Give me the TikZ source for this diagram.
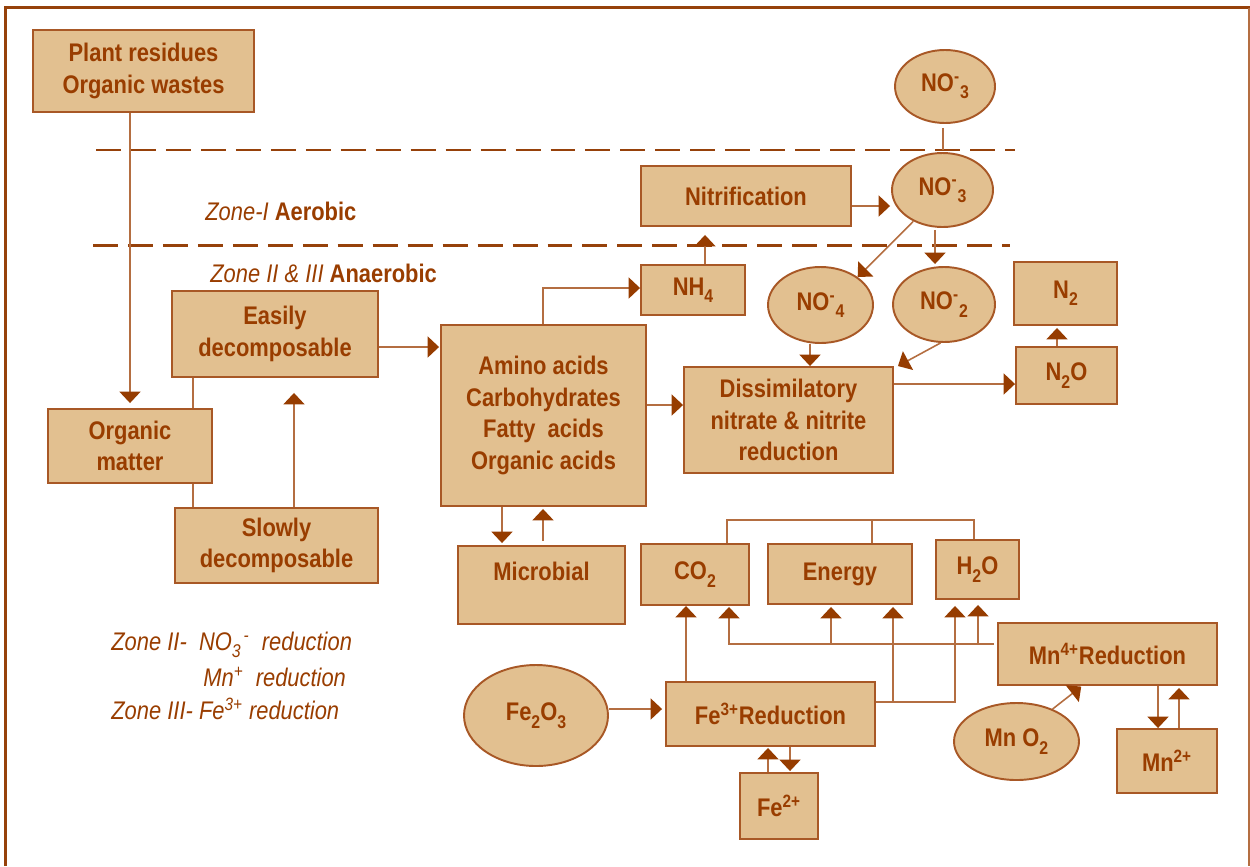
\documentclass[tikz,border=0pt]{standalone}
\usepackage{fontspec}
\setmainfont{Liberation Sans}[FakeStretch=0.86]
\usetikzlibrary{arrows.meta,shapes.geometric}
\definecolor{tanfill}{RGB}{226,192,144}
\definecolor{txtc}{RGB}{153,61,0}
\definecolor{brdr}{RGB}{168,88,38}
\definecolor{lnc}{RGB}{180,110,65}
\definecolor{headc}{RGB}{150,60,0}
\definecolor{dashc}{RGB}{150,65,10}
\newlength\pxu \setlength\pxu{0.02cm}
\newcommand\sbs[1]{\raisebox{-0.55ex}{\fontsize{10.5}{10.5}\selectfont #1}}
\begin{document}
\begin{tikzpicture}[x=0.02cm,y=-0.02cm,
  every node/.style={text=txtc, font=\fontsize{14.5}{18}\selectfont\bfseries},
  box/.style={draw=brdr, fill=tanfill, line width=1.1pt, inner sep=0pt, align=center},
  ell/.style={ellipse, draw=brdr, fill=tanfill, line width=1.1pt, inner sep=0pt, align=center},
  ln/.style={draw=lnc, line width=0.9pt},
  arr/.style={ln, -{Triangle[width=12pt,length=6.5pt,color=headc]}},
  zoneline/.style={dash pattern=on 14.2pt off 5.7pt, draw=dashc, line width=1.7pt},
  lbl/.style={font=\fontsize{14.5}{18}\selectfont\mdseries, anchor=west, inner sep=0pt}
]
\useasboundingbox (0,0) rectangle (1250,866);
% frame
\draw[draw=dashc, line width=1.7pt] (5.5,866) -- (5.5,7.5) -- (1250,7.5);
\draw[draw=lnc, line width=0.7pt] (1249,7.5) -- (1249,866);

% helper coordinates
\foreach \v in {193,294,705,935,810,1057,502,543,727,872,974,686,729,831,978,893,955,1082,1158,1179,768,790,943}
  \coordinate (x\v) at (\v,0);
\foreach \v in {347,405,384,206,520,644,702,709,150,245,288}
  \coordinate (y\v) at (0,\v);
\coordinate (mnl) at (994,644);

% zone dashed lines
\coordinate (za1) at (96,150);
\coordinate (za2) at (1015,150);
\coordinate (zb1) at (93,245);
\coordinate (zb2) at (1010,245);
\draw[zoneline] (za1) -- (za2);
\draw[zoneline] (zb1) -- (zb2);

% labels
\node[lbl] (z1) at (205,211) {\textit{Zone-I} \textbf{Aerobic}};
\node[lbl] (z2) at (210,273) {\textit{Zone II \& III} \textbf{Anaerobic}};
\node[lbl] (l1) at (111,645) {\textit{Zone II-\ \ NO\sbs{3}\textsuperscript{\,-}\ \ reduction}};
\node[lbl] (l2) at (203,677) {\textit{Mn\textsuperscript{+}\ \ reduction}};
\node[lbl] (l3) at (111,709) {\textit{Zone III- Fe\textsuperscript{3+} reduction}};

% boxes
\node[box, minimum width=221\pxu, minimum height=82\pxu] (plant) at (143.5,71) {Plant residues\\Organic wastes};
\node[box, minimum width=206\pxu, minimum height=86\pxu] (easy) at (275,334) {Easily\\decomposable};
\node[box, minimum width=164\pxu, minimum height=74\pxu] (organic) at (130,446) {Organic\\matter};
\node[box, minimum width=203\pxu, minimum height=75\pxu] (slow) at (276.5,545.5) {Slowly\\decomposable};
\node[box, minimum width=205\pxu, minimum height=181\pxu] (amino) at (543.5,415.5) {Amino acids\\Carbohydrates\\Fatty\ \ acids\\Organic acids};
\node[box, minimum width=104\pxu, minimum height=50\pxu] (nh4) at (693,290) {NH\sbs{4}};
\node[box, minimum width=210\pxu, minimum height=60\pxu] (nitri) at (746,196) {Nitrification};
\node[box, minimum width=209\pxu, minimum height=106\pxu] (diss) at (788.5,420) {Dissimilatory\\nitrate \& nitrite\\reduction};
\node[box, minimum width=101\pxu, minimum height=57\pxu] (n2o) at (1066.5,375.5) {N\sbs{2}O};
\node[box, minimum width=103\pxu, minimum height=63\pxu] (n2) at (1065.5,293.5) {N\sbs{2}};
\node[box, minimum width=167\pxu, minimum height=78\pxu] (micro) at (541.5,585) {Microbial\\[-2pt]\mbox{}};
\node[box, minimum width=108\pxu, minimum height=61\pxu] (co2) at (695,574.5) {CO\sbs{2}};
\node[box, minimum width=144\pxu, minimum height=60\pxu] (energy) at (840,574) {Energy};
\node[box, minimum width=83\pxu, minimum height=59\pxu] (h2o) at (977.5,569.5) {H\sbs{2}O};
\node[box, minimum width=209\pxu, minimum height=64\pxu] (fe3) at (770.5,714) {Fe\textsuperscript{3+}Reduction};
\node[box, minimum width=78\pxu, minimum height=66\pxu] (fe2) at (779,806) {Fe\textsuperscript{2+}};
\node[box, minimum width=219\pxu, minimum height=62\pxu] (mn4) at (1107.5,654) {Mn\textsuperscript{4+}Reduction};
\node[box, minimum width=100\pxu, minimum height=64\pxu] (mn2) at (1167,761) {Mn\textsuperscript{2+}};

% ellipses
\node[ell, minimum width=100\pxu, minimum height=73\pxu] (no3a) at (945,86.5) {NO\textsuperscript{-}\sbs{3}};
\node[ell, minimum width=101\pxu, minimum height=74\pxu] (no3b) at (942.5,190) {NO\textsuperscript{-}\sbs{3}};
\node[ell, minimum width=105\pxu, minimum height=76\pxu] (no4) at (820.5,305) {NO\textsuperscript{-}\sbs{4}};
\node[ell, minimum width=102\pxu, minimum height=75\pxu] (no2) at (944,304.5) {NO\textsuperscript{-}\sbs{2}};
\node[ell, minimum width=125\pxu, minimum height=77\pxu] (mno2) at (1016.5,741.5) {Mn O\sbs{2}};
\node[ell, minimum width=144\pxu, minimum height=101\pxu] (fe2o3) at (536,715.5) {Fe\sbs{2}O\sbs{3}};

% connectors
\draw[arr, shorten >=5\pxu] (plant.south -| organic.north) -- (organic.north);
\draw[ln] (easy.south -| x193) -- (organic.north -| x193);
\draw[ln] (organic.south -| x193) -- (slow.north -| x193);
\draw[arr, shorten >=15\pxu] (slow.north -| x294) -- (easy.south -| x294);
\draw[arr, shorten >=1\pxu] (easy.east |- y347) -- (amino.west |- y347);
\draw[arr] (amino.north -| x543) |- (nh4.west |- y288);
\draw[arr, shorten >=8\pxu] (nh4.north -| x705) -- (nitri.south -| x705);
\draw[arr, shorten >=1\pxu] (nitri.east |- y206) -- (no3b.west |- y206);
\draw[ln, shorten <=4\pxu] (no3a.south -| x943) -- (x943 |- y150);
\draw[arr] (no3b.227) -- (no4.37);
\draw[arr, shorten <=2\pxu, shorten >=2\pxu] (no3b.south -| x935) -- (no2.north -| x935);
\draw[arr] (no4.south -| x810) -- (diss.north -| x810);
\draw[arr] (no2.265) -- ([xshift=4\pxu]diss.north east);
\draw[arr] (amino.east |- y405) -- (diss.west |- y405);
\draw[arr] (diss.east |- y384) -- (n2o.west |- y384);
\draw[arr, shorten >=2\pxu] (n2o.north -| x1057) -- (n2.south -| x1057);
\draw[arr, shorten >=2\pxu] (amino.south -| x502) -- (micro.north -| x502);
\draw[arr, shorten <=4\pxu, shorten >=2\pxu] (micro.north -| x543) -- (amino.south -| x543);
% product bracket
\draw[ln] (co2.north -| x727) -- (x727 |- y520) -- (x974 |- y520) -- (h2o.north -| x974);
\draw[ln] (energy.north -| x872) -- (x872 |- y520);
% Fe3+ outputs
\draw[arr] (fe3.north -| x686) -- (co2.south -| x686);
\draw[arr, shorten >=6\pxu] (fe3.east |- y702) -| (h2o.south -| x955);
\draw[arr, shorten >=2\pxu] (x893 |- y702) -- (energy.south -| x893);
% Mn4+ outputs
\draw[arr, shorten >=1\pxu] (mnl) -| (co2.south -| x729);
\draw[arr, shorten >=2\pxu] (x831 |- mnl) -- (energy.south -| x831);
\draw[arr, shorten >=5\pxu] (x978 |- mnl) -- (h2o.south -| x978);
\draw[arr, shorten >=1\pxu] (mno2.42) -- (mn4.south -| x1082);
\draw[arr] (mn4.south -| x1158) -- (mn2.north -| x1158);
\draw[arr, shorten >=2\pxu] (mn2.north -| x1179) -- (mn4.south -| x1179);
% Fe
\draw[arr, shorten >=3\pxu] (fe2o3.east |- y709) -- (fe3.west |- y709);
\draw[arr, shorten >=1\pxu] (fe2.north -| x768) -- (fe3.south -| x768);
\draw[arr, shorten >=1\pxu] (fe3.south -| x790) -- (fe2.north -| x790);
\end{tikzpicture}
\end{document}
